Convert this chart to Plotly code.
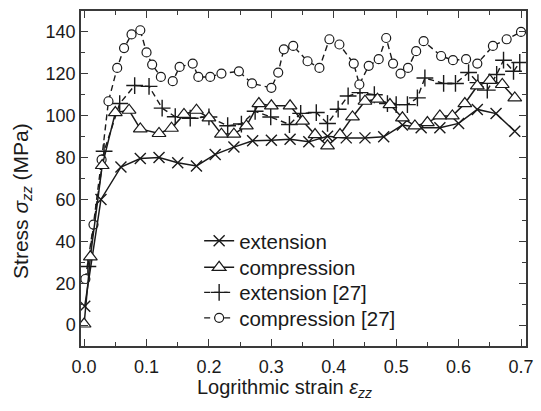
import plotly.graph_objects as go

# ---- data ----
ext_x = [0.001, 0.027, 0.059, 0.09, 0.12, 0.15, 0.18, 0.21, 0.24, 0.27, 0.30, 0.33,
         0.36, 0.39, 0.42, 0.45, 0.48, 0.51, 0.54, 0.57, 0.60, 0.63, 0.66, 0.69]
ext_y = [9, 60, 75.5, 79.5, 80, 77.5, 76, 81.5, 85, 88, 88.3, 88.7,
         87.5, 90.2, 89.4, 89.4, 89.9, 95.5, 94.2, 94.2, 96.3, 103, 101, 92.6]

comp_x = [0.0, 0.01, 0.029, 0.05, 0.072, 0.09, 0.12, 0.14, 0.16, 0.18, 0.20, 0.22,
          0.24, 0.26, 0.28, 0.30, 0.33, 0.35, 0.37, 0.39, 0.41, 0.43, 0.45, 0.47,
          0.49, 0.51, 0.53, 0.55, 0.57, 0.59, 0.61, 0.63, 0.65, 0.67, 0.69]
comp_y = [0.5, 32.6, 76.2, 101.5, 102.6, 93.7, 91.5, 94, 100.6, 102.6, 99, 91.2,
          91.2, 95.1, 105.8, 104.7, 104.7, 97.4, 91, 85.6, 91, 99.4, 106.9, 107.9,
          105.3, 99, 95.1, 96.7, 99.9, 99.9, 105.8, 114.2, 116.9, 114.9, 108.5]

ext27_x = [0.006, 0.032, 0.057, 0.081, 0.104, 0.125, 0.146, 0.17, 0.20, 0.23, 0.252, 0.274,
           0.299, 0.329, 0.347, 0.372, 0.39, 0.407, 0.423, 0.442, 0.465, 0.486, 0.50, 0.518,
           0.534, 0.546, 0.576, 0.595, 0.616, 0.631, 0.646, 0.661, 0.672, 0.688, 0.698]
ext27_y = [28, 83, 105.8, 114.4, 114, 103.6, 99.5, 98.8, 99.4, 95.2, 96, 102.1,
           99.4, 95.8, 101.1, 101.5, 96.3, 103.1, 109.4, 111, 110, 105.8, 105.3, 105.3,
           108.5, 118, 115.4, 115.4, 120.6, 115.8, 112.2, 119.7, 126.5, 121.2, 125.4]

comp27_x = [0.002, 0.015, 0.028, 0.039, 0.053, 0.064, 0.076, 0.09, 0.10, 0.109, 0.123, 0.142,
            0.153, 0.174, 0.183, 0.202, 0.22, 0.248, 0.269, 0.30, 0.311, 0.32, 0.335, 0.358,
            0.377, 0.393, 0.409, 0.432, 0.441, 0.456, 0.472, 0.484, 0.495, 0.507, 0.519, 0.532,
            0.544, 0.572, 0.591, 0.612, 0.63, 0.655, 0.677, 0.70]
comp27_y = [22, 48, 79, 106.9, 122.8, 132.3, 138.8, 140.8, 130.2, 124.4, 118.5, 116.5,
            123.3, 124.9, 118.5, 118.5, 120.1, 121.2, 115.4, 113.3, 120.6, 131.7, 133.3, 126,
            122.8, 136.5, 134, 124.9, 114.9, 123.8, 127, 137.1, 124.9, 120.1, 122.8, 130.8,
            135.6, 128.5, 126.5, 127, 124.9, 133.3, 136.5, 140]

x_ticks = [0.0, 0.1, 0.2, 0.3, 0.4, 0.5, 0.6, 0.7]
y_ticks = [0, 20, 40, 60, 80, 100, 120, 140]
x_title = "Logrithmic strain <i>ε</i><sub><i>zz</i></sub>"
y_title = "Stress <i>σ</i><sub><i>zz</i></sub> (MPa)"

INK = "#1a1a1a"
AX = "#3a3a3a"
FONT = "Liberation Sans, Arial, sans-serif"
L, R, T, B, W, H = 81, 8, 11, 65, 541, 411
PW, PH = W - L - R, H - T - B

def px_x(p):
    return (p - L) / PW

def px_y(p):
    return (H - B - p) / PH

fig = go.Figure()
fig.add_trace(go.Scatter(
    x=ext27_x, y=ext27_y, mode="lines+markers", name="extension [27]", legend="legend3",
    line=dict(color=INK, width=1.4, dash="6px,4px"),
    marker=dict(symbol="cross-thin-open", size=12, color=INK, line=dict(color=INK, width=1.4))))
fig.add_trace(go.Scatter(
    x=comp27_x, y=comp27_y, mode="lines+markers", name="compression [27]", legend="legend4",
    line=dict(color=INK, width=1.4, dash="6px,4px"),
    marker=dict(symbol="circle", size=9, color="white", line=dict(color=INK, width=1.2))))
fig.add_trace(go.Scatter(
    x=ext_x, y=ext_y, mode="lines+markers", name="extension", legend="legend",
    line=dict(color=INK, width=1.5),
    marker=dict(symbol="x-thin-open", size=11, color=INK, line=dict(color=INK, width=1.4))))
fig.add_trace(go.Scatter(
    x=comp_x, y=comp_y, mode="lines+markers", name="compression", legend="legend2",
    line=dict(color=INK, width=1.5),
    marker=dict(symbol="triangle-up", size=12, color="white", line=dict(color=INK, width=1.2))))

leg_common = dict(xanchor="left", yanchor="middle", bgcolor="rgba(0,0,0,0)",
                  font=dict(size=20.5, family=FONT, color=INK), borderwidth=0)
leg_x = px_x(201)
rows = [241, 267.5, 292.5, 318]

fig.update_layout(
    width=W, height=H,
    margin=dict(l=L, r=R, t=T, b=B),
    paper_bgcolor="white", plot_bgcolor="white",
    font=dict(family=FONT, size=18, color=INK),
    showlegend=True,
    legend=dict(x=leg_x, y=px_y(rows[0]), **leg_common),
    legend2=dict(x=leg_x, y=px_y(rows[1]), **leg_common),
    legend3=dict(x=leg_x, y=px_y(rows[2]), **leg_common),
    legend4=dict(x=leg_x, y=px_y(rows[3]), **leg_common),
    xaxis=dict(range=[-0.005, 0.708], tickvals=x_ticks, ticktext=[f"{v:.1f}" for v in x_ticks],
               showgrid=False, zeroline=False, showline=True, linecolor=AX, linewidth=1.5,
               mirror="ticks", ticks="inside", ticklen=7, tickwidth=1.3, tickcolor=AX,
               minor=dict(dtick=0.05, tick0=0, ticks="inside", ticklen=4, tickwidth=1.2, tickcolor=AX, showgrid=False),
               ticklabelstandoff=4, tickfont=dict(size=18)),
    yaxis=dict(range=[-10, 150], tickvals=y_ticks,
               showgrid=False, zeroline=False, showline=True, linecolor=AX, linewidth=1.5,
               mirror="ticks", ticks="inside", ticklen=7, tickwidth=1.3, tickcolor=AX,
               minor=dict(dtick=10, tick0=0, ticks="inside", ticklen=4, tickwidth=1.2, tickcolor=AX, showgrid=False),
               tickfont=dict(size=18)),
    annotations=[
        dict(text=x_title, xref="paper", yref="paper", x=px_x(197), y=px_y(388),
             xanchor="left", yanchor="middle", showarrow=False, font=dict(size=20, family=FONT, color=INK)),
        dict(text=y_title, xref="paper", yref="paper", x=px_x(21), y=px_y(201),
             xanchor="center", yanchor="middle", textangle=-90, showarrow=False,
             font=dict(size=21, family=FONT, color=INK)),
    ],
)

fig.write_html("out.html")
